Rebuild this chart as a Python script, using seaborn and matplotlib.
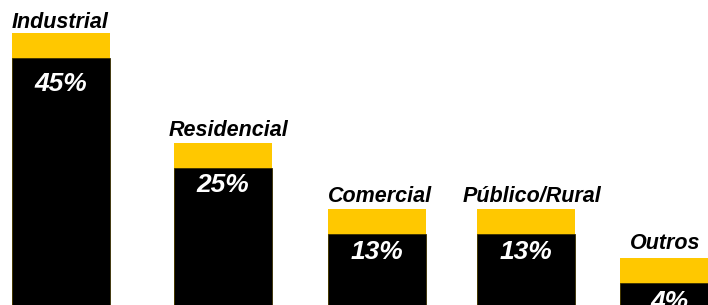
import numpy as np
import pandas as pd
import matplotlib
matplotlib.use("Agg")
import matplotlib.pyplot as plt
import seaborn as sns

# ---- data ----
categories = ["Industrial", "Residencial", "Comercial", "Público/Rural", "Outros"]
shares = [45, 25, 13, 13, 4]
share_labels = ["45%", "25%", "13%", "13%", "4%"]

# ---- layout (pixels) ----
W, H = 708, 305
bar_centers_px = [60.5, 222.5, 377, 526, 669]
bar_width_px = 98
cap_px = 25
px_per_unit = 5.5
label_gap_px = [4, 7, 6, 6, 9]
label_dx_px = [0, 6, 3, 6, -4]
value_drop_px = [26.5, 17.5, 18.5, 18.5, 19]

YELLOW = "#FFC800"

sns.set_theme(style="white")
plt.rcParams['font.family'] = ['Liberation Sans', 'DejaVu Sans']

fig = plt.figure(figsize=(W / 100, H / 100), dpi=100)
ax = fig.add_axes([0, 0, 1, 1])

cap_units = cap_px / px_per_unit
df = pd.DataFrame({
    "pos": bar_centers_px,
    "share": shares,
    "total": [s + cap_units for s in shares],
    "cat": categories,
})

min_gap = np.min(np.diff(sorted(bar_centers_px)))
rel_w = bar_width_px / min_gap

sns.barplot(data=df, x="pos", y="total", native_scale=True, color=YELLOW,
            saturation=1, width=rel_w, ax=ax, edgecolor="none", errorbar=None)
sns.barplot(data=df, x="pos", y="share", native_scale=True, color="black",
            saturation=1, width=rel_w, ax=ax, edgecolor="#3a3000", linewidth=0.6,
            errorbar=None)

for i, (c, s, lab) in enumerate(zip(categories, shares, share_labels)):
    x = bar_centers_px[i]
    ax.text(x + label_dx_px[i], s + cap_units + label_gap_px[i] / px_per_unit, c,
            ha="center", va="baseline", fontsize=15.5, fontweight="bold",
            fontstyle="italic", color="black")
    ax.text(x, s - value_drop_px[i] / px_per_unit, lab,
            ha="center", va="center", fontsize=19, fontweight="bold",
            fontstyle="italic", color="white")

ax.set_xlim(0, W)
ax.set_ylim(0, H / px_per_unit)
ax.axis("off")
fig.savefig("out.png", dpi=100)
